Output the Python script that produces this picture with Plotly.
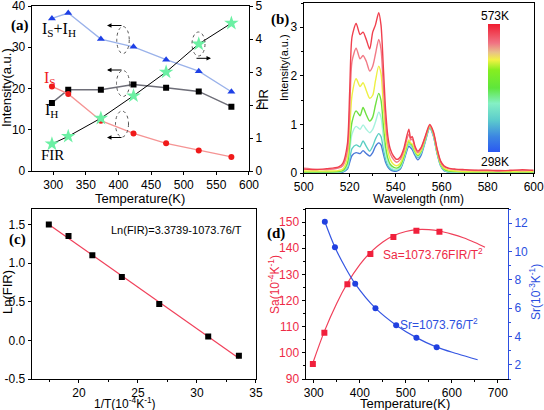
import plotly.graph_objects as go

W, H = 544, 410


def px(x):
    return x / W


def py(y):
    return 1 - y / H


# ---------------- Panel (a) data ----------------
temp_a = [298, 323, 373, 423, 473, 523, 573]
i_sum = [37.0, 38.3, 32.0, 30.1, 27.0, 24.2, 19.2]
i_h = [16.5, 19.7, 19.7, 21.0, 20.2, 19.3, 15.6]
i_s = [20.5, 18.7, 12.2, 9.1, 6.7, 5.0, 3.4]
fir = [0.82, 1.05, 1.60, 2.28, 3.00, 3.85, 4.48]

# ---------------- Panel (b) data ----------------
wl = [500, 505, 510, 515, 517, 519, 520, 521, 522.8, 524.5, 525.8, 527.2, 528.7, 530,
      531.2, 532.6, 533.6, 534.6, 535.6, 536.6, 537.6, 539, 540.5, 542, 543.5, 545.7,
      546.5, 547.2, 548.4, 549.6, 551, 552.6, 554.8, 556.4, 558, 559.5, 561, 563, 566,
      570, 575, 580, 585, 590, 595, 600]
spec_298 = [0.00, 0.00, 0.00, 0.01, 0.02, 0.08, 0.22, 0.36, 0.42, 0.40, 0.46, 0.40, 0.35, 0.42,
            0.55, 0.62, 0.58, 0.40, 0.22, 0.12, 0.07, 0.04, 0.04, 0.08, 0.25, 0.55,
            0.52, 0.48, 0.36, 0.27, 0.36, 0.60, 0.93, 0.76, 0.40, 0.15, 0.05, 0.02, 0.01,
            0.00, 0.00, 0.00, 0.00, 0.00, 0.00, 0.00]
spec_323 = [0.01, 0.01, 0.01, 0.02, 0.03, 0.10, 0.30, 0.50, 0.58, 0.54, 0.66, 0.55, 0.45, 0.55,
            0.70, 0.81, 0.75, 0.50, 0.28, 0.15, 0.09, 0.06, 0.06, 0.10, 0.28, 0.60,
            0.57, 0.53, 0.40, 0.32, 0.40, 0.62, 0.94, 0.77, 0.41, 0.16, 0.06, 0.02, 0.01,
            0.01, 0.01, 0.01, 0.01, 0.01, 0.01, 0.01]
spec_373 = [0.01, 0.01, 0.01, 0.02, 0.04, 0.15, 0.45, 0.80, 0.96, 0.90, 0.99, 0.90, 0.83, 0.90,
            1.05, 1.25, 1.15, 0.75, 0.42, 0.22, 0.13, 0.08, 0.07, 0.12, 0.30, 0.62,
            0.58, 0.55, 0.42, 0.34, 0.42, 0.64, 0.95, 0.78, 0.42, 0.17, 0.07, 0.03, 0.02,
            0.01, 0.01, 0.01, 0.01, 0.01, 0.01, 0.01]
spec_423 = [0.02, 0.02, 0.02, 0.03, 0.05, 0.20, 0.60, 1.05, 1.28, 1.18, 1.35, 1.20, 1.07, 1.15,
            1.40, 1.64, 1.50, 1.00, 0.55, 0.30, 0.18, 0.12, 0.10, 0.15, 0.33, 0.65,
            0.60, 0.57, 0.44, 0.36, 0.44, 0.66, 0.96, 0.80, 0.43, 0.18, 0.08, 0.04, 0.03,
            0.02, 0.02, 0.02, 0.02, 0.02, 0.02, 0.02]
spec_473 = [0.04, 0.04, 0.04, 0.05, 0.08, 0.30, 0.90, 1.60, 1.94, 1.78, 1.86, 1.70, 1.54, 1.60,
            1.90, 2.20, 2.05, 1.40, 0.80, 0.45, 0.28, 0.18, 0.15, 0.20, 0.38, 0.68,
            0.62, 0.60, 0.46, 0.38, 0.46, 0.68, 0.97, 0.82, 0.45, 0.20, 0.10, 0.06, 0.04,
            0.03, 0.03, 0.03, 0.03, 0.03, 0.03, 0.03]
spec_523 = [0.10, 0.08, 0.07, 0.10, 0.15, 0.45, 1.30, 2.30, 2.57, 2.35, 2.42, 2.30, 2.10, 2.20,
            2.45, 2.75, 2.55, 1.80, 1.05, 0.60, 0.40, 0.28, 0.22, 0.28, 0.45, 0.80,
            0.68, 0.70, 0.52, 0.42, 0.50, 0.70, 0.98, 0.83, 0.48, 0.23, 0.13, 0.09, 0.07,
            0.06, 0.05, 0.05, 0.04, 0.06, 0.05, 0.06]
spec_573 = [0.08, 0.07, 0.09, 0.12, 0.20, 0.60, 1.70, 2.80, 3.08, 2.85, 2.90, 2.75, 2.55, 2.90,
            3.05, 3.30, 3.05, 2.20, 1.30, 0.75, 0.50, 0.35, 0.28, 0.33, 0.50, 0.90,
            0.72, 0.75, 0.55, 0.45, 0.52, 0.72, 1.00, 0.85, 0.50, 0.25, 0.15, 0.10, 0.08,
            0.07, 0.06, 0.06, 0.05, 0.05, 0.07, 0.05]
spectra = [spec_298, spec_323, spec_373, spec_423, spec_473, spec_523, spec_573]
spec_colors = ['#4a78d8', '#5ccfc4', '#a6f2de', '#6ee040', '#eef044', '#f27a86', '#f0404e']
cbar_labels = ['298K', '573K']

# ---------------- Panel (c) data ----------------
inv_t = [33.56, 30.96, 26.81, 23.64, 21.14, 19.12, 17.45]
ln_fir = [-0.20, 0.05, 0.47, 0.82, 1.10, 1.35, 1.50]
fit_x = [17.45, 33.56]
fit_y = [1.50, -0.23]

# ---------------- Panel (d) data ----------------
sa_t = [298, 323, 373, 423, 473, 523, 573]
sa = [95.7, 107.7, 126.2, 137.8, 144.3, 146.7, 146.3]
sa_fit_t = [298, 323, 350, 373, 400, 423, 450, 473, 500, 523, 550, 573, 600, 625, 650, 672]
sa_fit = [96.1, 108.2, 119.0, 126.6, 133.7, 138.4, 142.4, 144.8, 146.4, 147.1, 147.1,
          146.6, 145.4, 144.0, 142.2, 140.4]
sr_t = [324, 346, 390, 434, 479, 523, 567]
sr = [12.1, 10.3, 7.72, 6.0, 4.8, 3.92, 3.25]
sr_fit_t = [324, 346, 368, 390, 434, 479, 523, 567, 612, 656]
sr_fit = [12.1, 10.3, 8.9, 7.72, 6.0, 4.8, 3.92, 3.25, 2.78, 2.36]

SANS = 'Liberation Sans, Arial, sans-serif'
SERIF = 'Liberation Serif, Times New Roman, serif'
RED = '#ee2a46'
BLUE = '#2c4fe0'

fig = go.Figure()

# Panel (a)
fig.add_trace(go.Scatter(x=temp_a, y=i_sum, mode='lines+markers', xaxis='x', yaxis='y',
                         line=dict(color='#9ab2ea', width=1.3),
                         marker=dict(symbol='triangle-up', size=7, color='#1e40e6')))
fig.add_trace(go.Scatter(x=temp_a, y=i_h, mode='lines+markers', xaxis='x', yaxis='y',
                         line=dict(color='#6e6e78', width=1.5),
                         marker=dict(symbol='square', size=6, color='black')))
fig.add_trace(go.Scatter(x=temp_a, y=i_s, mode='lines+markers', xaxis='x', yaxis='y',
                         line=dict(color='#f59494', width=1.3),
                         marker=dict(symbol='circle', size=6, color='#f01a1a')))
fig.add_trace(go.Scatter(x=temp_a, y=fir, mode='lines+markers', xaxis='x', yaxis='y2',
                         line=dict(color='black', width=1),
                         marker=dict(symbol='star', size=11, color='#6cf0a4',
                                     line=dict(width=0))))

# Panel (b)
for s, c in zip(spectra, spec_colors):
    fig.add_trace(go.Scatter(x=wl, y=s, mode='lines', xaxis='x3', yaxis='y3',
                             line=dict(color=c, width=1.4, shape='spline', smoothing=0.7)))
fig.add_trace(go.Scatter(
    x=[500, 500], y=[-5, -5], mode='markers', xaxis='x3', yaxis='y3',
    marker=dict(size=1, color=[298, 573], cmin=298, cmax=573, opacity=0,
                colorscale=[[0, '#2a58f2'], [0.12, '#3c86e2'], [0.25, '#5ccccc'],
                            [0.38, '#84f0c4'], [0.5, '#5ee63c'], [0.64, '#86ee20'],
                            [0.72, '#f2f244'], [0.78, '#e8c08a'], [0.85, '#f07484'],
                            [1, '#f01c30']],
                showscale=True,
                colorbar=dict(x=px(488), xanchor='left', y=py(88.3), yanchor='middle',
                              len=128, lenmode='pixels', thickness=12,
                              thicknessmode='pixels', outlinewidth=0, xpad=0, ypad=0,
                              showticklabels=False, ticks=''))))

# Panel (c)
fig.add_trace(go.Scatter(x=fit_x, y=fit_y, mode='lines', xaxis='x4', yaxis='y4',
                         line=dict(color='#f0405a', width=1.2)))
fig.add_trace(go.Scatter(x=inv_t, y=ln_fir, mode='markers', xaxis='x4', yaxis='y4',
                         marker=dict(symbol='square', size=6, color='black')))

# Panel (d)
fig.add_trace(go.Scatter(x=sa_fit_t, y=sa_fit, mode='lines', xaxis='x5', yaxis='y5',
                         line=dict(color='#f0405a', width=1.2, shape='spline')))
fig.add_trace(go.Scatter(x=sa_t, y=sa, mode='markers', xaxis='x5', yaxis='y5',
                         marker=dict(symbol='square', size=6, color='#f0203c')))
fig.add_trace(go.Scatter(x=sr_fit_t, y=sr_fit, mode='lines', xaxis='x5', yaxis='y6',
                         line=dict(color='#3556e2', width=1.2, shape='spline')))
fig.add_trace(go.Scatter(x=sr_t, y=sr, mode='markers', xaxis='x5', yaxis='y6',
                         marker=dict(symbol='circle', size=6, color='#2040e0')))

tickfont = dict(family=SANS, size=12, color='black')
base = dict(showline=True, linecolor='black', linewidth=1, ticks='outside', ticklen=3,
            tickwidth=1, tickcolor='black', showgrid=False, zeroline=False,
            tickfont=tickfont, fixedrange=True, automargin=False,
            ticklabeloverflow='allow')

layout_axes = dict(
    xaxis=dict(base, domain=[px(31.7), px(249)], range=[267, 600.01], dtick=50, tick0=300,
               anchor='y', mirror=True),
    yaxis=dict(base, domain=[py(171), py(6)], range=[0, 40.01], dtick=10, anchor='x'),
    yaxis2=dict(base, overlaying='y', side='right', range=[0, 5.001], dtick=1, anchor='x'),
    xaxis3=dict(base, domain=[px(303.7), px(533.7)], range=[499.99, 600.01], dtick=20,
                anchor='y3', mirror=True, minor=dict(dtick=10, ticks='outside', ticklen=2)),
    yaxis3=dict(base, domain=[py(173), py(3)], range=[0, 3.5], dtick=1, anchor='x3',
                mirror=True, minor=dict(dtick=0.5, ticks='outside', ticklen=2)),
    xaxis4=dict(base, domain=[px(31.7), px(256)], range=[16, 35.01], dtick=5, anchor='y4',
                mirror=True, minor=dict(dtick=2.5, ticks='outside', ticklen=2)),
    yaxis4=dict(base, domain=[py(379), py(209)], range=[-0.5, 1.7], anchor='x4',
                mirror=True, tickvals=[-0.5, 0, 0.5, 1.0, 1.5],
                ticktext=['-0.5', '0.0', '0.5', '1.0', '1.5']),
    xaxis5=dict(base, domain=[px(305.5), px(508)], range=[282, 722], dtick=100, tick0=300,
                anchor='y5', mirror=True, minor=dict(dtick=50, ticks='outside', ticklen=2)),
    yaxis5=dict(base, domain=[py(379), py(209)], range=[90, 155], dtick=10, anchor='x5',
                tickfont=dict(family=SANS, size=12, color=RED),
                minor=dict(dtick=5, ticks='outside', ticklen=2)),
    yaxis6=dict(base, overlaying='y5', side='right', range=[1, 13], dtick=2, tick0=2,
                anchor='x5', linecolor=BLUE, tickcolor=BLUE,
                tickfont=dict(family=SANS, size=12, color=BLUE),
                minor=dict(dtick=1, ticks='outside', ticklen=2, tickcolor=BLUE)),
)

ann = []


def text(x, y, t, size=12, color='black', family=SANS, angle=0, **kw):
    ann.append(dict(x=px(x), y=py(y), xref='paper', yref='paper', text=t, showarrow=False,
                    font=dict(family=family, size=size, color=color), textangle=angle,
                    xanchor='center', yanchor='middle', **kw))


# axis titles
text(140, 198, 'Temperature(K)', 13)
text(7, 88, 'Intensity(a.u.)', 13, angle=-90)
text(263, 100, 'FIR', 13, angle=-90)
text(418, 199, 'Wavelength (nm)', 12)
text(284, 68, 'Intensity(a.u.)', 11, angle=-90)
text(125, 403, '1/T(10<sup>-4</sup>K<sup>-1</sup>)', 12)
text(7, 292, 'Ln(FIR)', 13, angle=-90)
text(405, 403.5, 'Temperature(K)', 13)
text(274, 285, 'Sa(10<sup>-4</sup>K<sup>-1</sup>)', 12, color=RED, angle=-90)
text(535, 292, 'Sr(10<sup>-3</sup>K<sup>-1</sup>)', 12, color=BLUE, angle=-90)

# panel labels
text(20, 25, '<b>(a)</b>', 15, family=SERIF)
text(280, 19, '<b>(b)</b>', 15, family=SERIF)
text(17, 240, '<b>(c)</b>', 15, family=SERIF)
text(276, 234, '<b>(d)</b>', 15, family=SERIF)

# panel (a) series labels
text(59, 30, 'I<sub>S</sub>+I<sub>H</sub>', 16, family=SERIF)
text(50, 79, 'I<sub>S</sub>', 16, color='#f01a1a', family=SERIF)
text(51, 110, 'I<sub>H</sub>', 16, family=SERIF)
text(52, 155, 'FIR', 15, family=SERIF)

# panel (b) colorbar labels
text(495, 16, cbar_labels[1], 12)
text(495, 162, cbar_labels[0], 12)

# panel (c) equation
text(176, 230, 'Ln(FIR)=3.3739-1073.76/T', 11)

# panel (d) equations
text(433, 254, 'Sa=1073.76FIR/T<sup>2</sup>', 12, color=RED)
text(439, 324, 'Sr=1073.76/T<sup>2</sup>', 12, color=BLUE)

# arrows in panel (a)
for (hx, hy, d) in [(107, 25.5, 16), (107, 70, 16), (107, 137.5, 16), (211, 58.3, -16)]:
    ann.append(dict(x=px(hx), y=py(hy), xref='paper', yref='paper', text='',
                    showarrow=True, ax=d, ay=0, axref='pixel', ayref='pixel',
                    arrowhead=2, arrowsize=0.9, arrowwidth=1, arrowcolor='black'))

shapes = []
for (cx, cy, w, h) in [(123, 40, 12.5, 27), (123, 83.5, 13, 26), (122, 124, 13, 26),
                       (198.5, 44, 13, 24)]:
    shapes.append(dict(type='circle', xref='paper', yref='paper',
                       x0=px(cx - w / 2), x1=px(cx + w / 2), y0=py(cy + h / 2),
                       y1=py(cy - h / 2), line=dict(color='#555555', width=1, dash='dot')))

fig.update_layout(
    width=W, height=H, margin=dict(l=0, r=0, t=0, b=0, autoexpand=False),
    paper_bgcolor='white', plot_bgcolor='white', showlegend=False,
    annotations=ann, shapes=shapes, **layout_axes)

fig.write_html('out.html', config={'displayModeBar': False},
               post_script="document.body.style.margin='0';"
                           "document.body.style.overflow='hidden';")
